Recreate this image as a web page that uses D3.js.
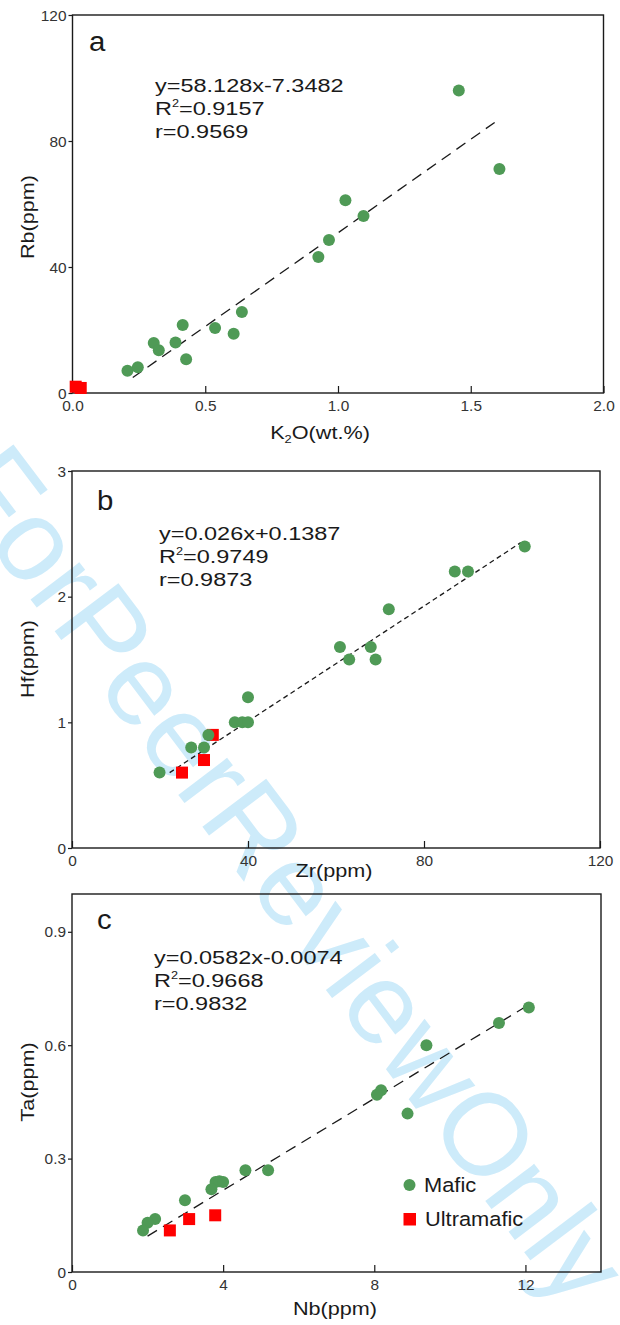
<!DOCTYPE html>
<html>
<head>
<meta charset="utf-8">
<script src="https://cdn.jsdelivr.net/npm/d3@7"></script>
<style>
  html, body { margin: 0; padding: 0; background: #fff; }
  svg { display: block; }
  text { font-family: "Liberation Sans", Arial, sans-serif; }
</style>
</head>
<body>
<script>
// ---------------- DATA ----------------
// Panel a: K2O (wt.%) vs Rb (ppm)
const aMafic = [[1.455,96.0],[1.608,71.1],[1.028,61.2],[1.096,56.2],[0.966,48.6],[0.926,43.2],
  [0.638,25.7],[0.415,21.6],[0.537,20.6],[0.607,18.8],[0.306,15.9],[0.388,16.0],[0.325,13.6],
  [0.428,10.7],[0.246,8.2],[0.207,7.1]];
const aUltra = [[0.012,2.0],[0.031,1.6]];
const aFit = [[0.227,4.9],[1.59,85.9]];
const aXTicks = [0,0.5,1.0,1.5,2.0];
const aYTicks = [0,40,80,120];
const aEq = ["y=58.128x-7.3482","0.9157","0.9569"];

// Panel b: Zr (ppm) vs Hf (ppm)
const bMafic = [[102.9,2.40],[87.0,2.20],[90.0,2.20],[72.0,1.90],[60.9,1.60],[67.9,1.60],
  [63.0,1.50],[69.0,1.50],[40.0,1.20],[37.0,1.0],[38.7,1.0],[40.0,1.0],[31.0,0.9],[27.1,0.8],
  [30.0,0.8],[19.9,0.6]];
const bUltra = [[32.0,0.9],[30.0,0.7],[25.0,0.6]];
const bFit = [[22.2,0.6],[102.0,2.43]];
const bXTicks = [0,40,80,120];
const bYTicks = [0,1,2,3];
const bEq = ["y=0.026x+0.1387","0.9749","0.9873"];

// Panel c: Nb (ppm) vs Ta (ppm)
const cMafic = [[12.09,0.700],[11.3,0.659],[9.38,0.600],[8.18,0.481],[8.07,0.469],[8.88,0.419],
  [4.59,0.269],[5.19,0.269],[3.80,0.238],[3.90,0.240],[4.00,0.238],[3.69,0.219],[2.99,0.190],
  [2.20,0.140],[2.00,0.130],[1.88,0.110]];
const cUltra = [[2.59,0.110],[3.10,0.140],[3.79,0.150]];
const cFit = [[2.0,0.095],[11.96,0.699]];
const cXTicks = [0,4,8,12];
const cYTicks = [0,0.3,0.6,0.9];
const cEq = ["y=0.0582x-0.0074","0.9668","0.9832"];

const legendLabels = ["Mafic","Ultramafic"];
const watermarkText = "ForPeerReviewOnly";

// ---------------- DRAW ----------------
const GREEN = "#4f9a56", RED = "#ff0000", INK = "#1a1a1a";
const svg = d3.select("body").append("svg").attr("width",620).attr("height",1325);

// watermark (behind everything)
svg.append("text")
  .attr("transform","translate(-56,485) rotate(52.9)")
  .attr("font-size",116).attr("fill","#cdebfa")
  .text(watermarkText);

function sText(g, x, y, str, o = {}) {
  const t = g.append("text")
    .attr("transform", `translate(${x},${y}) rotate(${o.rot||0}) scale(${o.sx||1.18},1)`)
    .attr("font-size", o.fs || 18)
    .attr("fill", o.fill || INK)
    .attr("text-anchor", o.anchor || "start");
  if (str !== null) t.text(str);
  return t;
}

const panels = [
  { letter:"a", mafic:aMafic, ultra:aUltra, fit:aFit, xt:aXTicks, yt:aYTicks, eq:aEq,
    xd:[0,2], yd:[0,120], L:72.5, R:603.5, T:15, B:393,
    xfmt:d3.format(".1f"), yfmt:d3.format("d"), dash:"11,7",
    letterPos:[89,51], eqPos:[155,91.5], yTitle:"Rb(ppm)", yTitleY:217,
    xTitle:["K","2","O(wt.%)"], xTitleX:320, xTitleY:439 },
  { letter:"b", mafic:bMafic, ultra:bUltra, fit:bFit, xt:bXTicks, yt:bYTicks, eq:bEq,
    xd:[0,120], yd:[0,3], L:72, R:600, T:471, B:848,
    xfmt:d3.format("d"), yfmt:d3.format("d"), dash:"5,3.5",
    letterPos:[97,510], eqPos:[159,539.5], yTitle:"Hf(ppm)", yTitleY:659,
    xTitle:["Zr(ppm)"], xTitleX:334, xTitleY:877 },
  { letter:"c", mafic:cMafic, ultra:cUltra, fit:cFit, xt:cXTicks, yt:cYTicks, eq:cEq,
    xd:[0,14], yd:[0,1], L:72, R:601, T:894, B:1272,
    xfmt:d3.format("d"), yfmt:d => d===0 ? "0" : d3.format(".1f")(d), dash:"11,7",
    letterPos:[97,929], eqPos:[154,963.5], yTitle:"Ta(ppm)", yTitleY:1082,
    xTitle:["Nb(ppm)"], xTitleX:335, xTitleY:1315 }
];

panels.forEach(p => {
  const g = svg.append("g");
  const x = d3.scaleLinear().domain(p.xd).range([p.L,p.R]);
  const y = d3.scaleLinear().domain(p.yd).range([p.B,p.T]);

  // y axis (outward ticks)
  const ya = g.append("g").attr("transform",`translate(${p.L},0)`)
    .call(d3.axisLeft(y).tickValues(p.yt).tickFormat(p.yfmt).tickSize(4).tickSizeOuter(0).tickPadding(2));
  ya.select(".domain").remove();
  ya.selectAll(".tick line").attr("stroke",INK).attr("stroke-width",1.2);
  ya.selectAll(".tick text").attr("x",null).attr("dy","0.36em")
    .attr("transform","translate(-6,0) scale(1.1,1)")
    .attr("font-size",14).attr("fill","#333").attr("font-family",null);

  // x axis (inward ticks)
  const xa = g.append("g").attr("transform",`translate(0,${p.B})`)
    .call(d3.axisBottom(x).tickValues(p.xt).tickFormat(p.xfmt).tickSize(-7).tickSizeOuter(0).tickPadding(8.4));
  xa.select(".domain").remove();
  xa.selectAll(".tick line").attr("stroke",INK).attr("stroke-width",1.2);
  xa.selectAll(".tick text").attr("transform","scale(1.1,1)")
    .attr("font-size",14).attr("fill","#333").attr("font-family",null);

  // frame
  g.append("rect").attr("x",p.L).attr("y",p.T).attr("width",p.R-p.L).attr("height",p.B-p.T)
    .attr("fill","none").attr("stroke",INK).attr("stroke-width",1.4);

  // fit line
  g.append("path").datum(p.fit)
    .attr("d", d3.line().x(d=>x(d[0])).y(d=>y(d[1])))
    .attr("fill","none").attr("stroke",INK).attr("stroke-width",1.3)
    .attr("stroke-dasharray",p.dash);

  // ultramafic squares
  g.selectAll("rect.u").data(p.ultra).join("rect").attr("class","u")
    .attr("x",d=>x(d[0])-6).attr("y",d=>y(d[1])-6)
    .attr("width",12).attr("height",12).attr("fill",RED);

  // mafic circles
  g.selectAll("circle.m").data(p.mafic).join("circle").attr("class","m")
    .attr("cx",d=>x(d[0])).attr("cy",d=>y(d[1])).attr("r",6).attr("fill",GREEN);

  // panel letter
  sText(g, p.letterPos[0], p.letterPos[1], p.letter, {fs:28, sx:1.05});

  // equation text
  const eo = {fs:18.5, sx:1.27};
  sText(g, p.eqPos[0], p.eqPos[1], p.eq[0], eo);
  const t2 = sText(g, p.eqPos[0], p.eqPos[1]+23.3, null, eo);
  t2.append("tspan").text("R");
  t2.append("tspan").attr("font-size",10).attr("dy",-7.5).text("2");
  t2.append("tspan").attr("dy",7.5).text("=" + p.eq[1]);
  sText(g, p.eqPos[0], p.eqPos[1]+46.6, "r=" + p.eq[2], eo);

  // y title
  sText(g, 34, p.yTitleY, p.yTitle, {fs:18.5, rot:-90, anchor:"middle", sx:1.17});

  // x title
  const xt = sText(g, p.xTitleX, p.xTitleY, null, {fs:18.5, anchor:"middle", sx:1.17});
  if (p.xTitle.length === 3) {
    xt.append("tspan").text(p.xTitle[0]);
    xt.append("tspan").attr("font-size",11).attr("dy",4).text(p.xTitle[1]);
    xt.append("tspan").attr("dy",-4).text(p.xTitle[2]);
  } else {
    xt.text(p.xTitle[0]);
  }

  // legend in panel c
  if (p.letter === "c") {
    g.append("circle").attr("cx",409.5).attr("cy",1185).attr("r",6).attr("fill",GREEN);
    sText(g, 424, 1192, legendLabels[0], {fs:19.5, sx:1.12});
    g.append("rect").attr("x",403.5).attr("y",1213).attr("width",12.5).attr("height",12.5).attr("fill",RED);
    sText(g, 425, 1225.5, legendLabels[1], {fs:19.5, sx:1.12});
  }
});
</script>
</body>
</html>
